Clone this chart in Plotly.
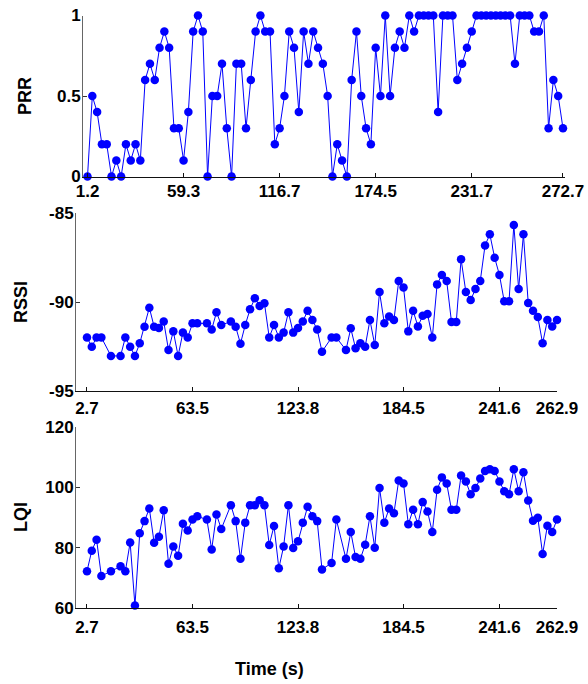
import plotly.graph_objects as go

# ---------------- data ----------------
prr = [0, 0.5, 0.4, 0.2, 0.2, 0, 0.1, 0, 0.2, 0.1,
       0.2, 0.1, 0.6, 0.7, 0.6, 0.8, 0.9, 0.8, 0.3, 0.3,
       0.1, 0.4, 0.9, 1, 0.9, 0, 0.5, 0.5, 0.7, 0.3,
       0, 0.7, 0.7, 0.3, 0.6, 0.9, 1, 0.9, 0.9, 0.2,
       0.3, 0.5, 0.9, 0.8, 0.4, 0.9, 0.7, 0.9, 0.8, 0.7,
       0.5, 0, 0.2, 0.1, 0, 0.6, 0.9, 0.5, 0.3, 0.2,
       0.8, 0.5, 1, 0.5, 0.8, 0.9, 0.8, 1, 0.9, 1,
       1, 1, 1, 0.4, 1, 1, 1, 0.6, 0.7, 0.8,
       0.9, 1, 1, 1, 1, 1, 1, 1, 1, 0.7,
       1, 1, 1, 0.9, 0.9, 1, 0.3, 0.6, 0.5, 0.3]

rssi = [-91.99, -92.51, -91.99, -91.99, -93.03, -93.03, -91.99, -92.51, -93.03, -92.32,
        -91.39, -90.32, -91.39, -91.46, -91.10, -92.70, -91.65, -93.03, -91.72, -91.99,
        -91.20, -91.20, -91.20, -91.55, -90.58, -91.29, -91.10, -91.39, -92.34, -91.29,
        -90.41, -89.79, -90.22, -90.07, -91.99, -91.29, -91.99, -91.72, -90.58, -91.72,
        -91.46, -91.10, -90.49, -91.01, -91.55, -92.79, -92.00, -92.00, -92.70, -91.48,
        -92.60, -92.32, -92.51, -91.01, -92.42, -89.44, -91.20, -90.82, -91.01, -88.82,
        -89.18, -91.65, -90.49, -91.37, -90.77, -90.67, -92.00, -89.01, -88.48, -88.82,
        -91.12, -91.12, -87.60, -89.44, -89.89, -89.27, -88.82, -86.82, -86.20, -87.51,
        -88.48, -89.96, -89.96, -85.67, -89.27, -86.20, -90.06, -90.49, -90.84, -92.32,
        -91.01, -91.37, -91.01]

lqi = [72.2, 79.0, 82.6, 70.6, 72.2, 73.8, 72.2, 81.7, 60.8, 84.8,
       88.8, 93.0, 81.6, 83.6, 92.4, 74.7, 80.4, 77.3, 87.9, 85.7,
       89.3, 90.4, 89.3, 79.4, 91.0, 86.2, 94.1, 88.8, 76.3, 88.3,
       94.1, 94.1, 95.7, 94.1, 80.9, 87.2, 73.2, 80.4, 94.1, 79.9,
       82.1, 88.3, 93.6, 90.4, 88.8, 72.8, 74.9, 89.3, 76.3, 85.2,
       76.9, 76.3, 81.0, 90.4, 80.0, 99.8, 88.3, 93.0, 91.4, 102.3,
       101.3, 87.8, 92.6, 87.8, 95.1, 92.0, 85.2, 99.2, 103.3, 101.3,
       92.6, 92.6, 103.9, 101.9, 97.7, 99.8, 102.9, 105.4, 106.0, 105.4,
       101.9, 98.7, 97.7, 106.0, 98.7, 105.0, 95.6, 88.9, 89.9, 77.9,
       87.3, 85.2, 89.3]

prr_tick_labels = ["1.2", "59.3", "116.7", "174.5", "231.7", "272.7"]
link_tick_labels = ["2.7", "63.5", "123.8", "184.5", "241.6", "262.9"]

# sample slots: RSSI/LQI only exist where packets were received (PRR > 0)
slots = list(range(len(prr)))
rx_slots = [i for i, v in enumerate(prr) if v > 0]
prr_tick_pos = [0, 20, 40, 60, 80, 99]
link_tick_pos = [rx_slots[k] for k in (0, 20, 40, 60, 80, len(rx_slots) - 1)]

W, H = 588, 684
BLUE = "#0000FF"
FONT = "Liberation Sans, Arial, sans-serif"

def fx(px):
    return px / W

def fy(py):
    return 1 - py / H

fig = go.Figure()
common = dict(mode="lines+markers", line=dict(color=BLUE, width=1),
              marker=dict(color=BLUE, size=8.5), cliponaxis=False, showlegend=False)
fig.add_trace(go.Scatter(x=slots, y=prr, xaxis="x", yaxis="y", **common))
fig.add_trace(go.Scatter(x=rx_slots, y=rssi, xaxis="x2", yaxis="y2", **common))
fig.add_trace(go.Scatter(x=rx_slots, y=lqi, xaxis="x3", yaxis="y3", **common))

tickfont = dict(family=FONT, size=17, color="black", weight="bold")
xcommon = dict(showgrid=False, zeroline=False, showline=True, linecolor="#111", linewidth=1,
               ticks="inside", ticklen=4, tickcolor="#111", tickfont=tickfont,
               automargin=False, fixedrange=True)
ycommon = dict(showgrid=False, zeroline=False, showline=True, linecolor="#666", linewidth=1,
               ticks="inside", ticklen=4, tickcolor="#333", tickfont=tickfont,
               automargin=False, fixedrange=True, ticklabelstandoff=-2)

fig.update_layout(
    width=W, height=H,
    margin=dict(l=0, r=0, t=0, b=0),
    paper_bgcolor="white", plot_bgcolor="white",
    xaxis=dict(domain=[fx(83), fx(565)], range=[-0.94, 99.42], anchor="y",
               tickvals=prr_tick_pos, ticktext=prr_tick_labels,
               ticklabelstandoff=-1, **xcommon),
    yaxis=dict(domain=[fy(176.5), fy(15.5)], range=[0, 1], anchor="x",
               tickvals=[0, 0.5, 1], ticktext=["0", "0.5", "1"], **ycommon),
    xaxis2=dict(domain=[fx(76), fx(557)], range=[-1.29, 99], anchor="y2",
                tickvals=link_tick_pos, ticktext=link_tick_labels,
                ticklabelstandoff=2, **xcommon),
    yaxis2=dict(domain=[fy(391), fy(213)], range=[-95, -85], anchor="x2",
                tickvals=[-95, -90, -85], ticktext=["-95", "-90", "-85"], **ycommon),
    xaxis3=dict(domain=[fx(76), fx(557)], range=[-1.29, 99], anchor="y3",
                tickvals=link_tick_pos, ticktext=link_tick_labels,
                ticklabelstandoff=4, **xcommon),
    yaxis3=dict(domain=[fy(608), fy(427)], range=[60, 120], anchor="x3",
                tickvals=[60, 80, 100, 120], ticktext=["60", "80", "100", "120"], **ycommon),
)

titlefont = dict(family=FONT, size=18, color="black", weight="bold")
for text, x, y, ang in [("PRR", 25, 96, -90), ("RSSI", 21, 302, -90),
                        ("LQI", 21, 517, -90), ("Time (s)", 269, 669, 0)]:
    fig.add_annotation(text=text, x=fx(x), y=fy(y), xref="paper", yref="paper",
                       xanchor="center", yanchor="middle", textangle=ang,
                       showarrow=False, font=titlefont)

fig.write_html("out.html", config={"displayModeBar": False, "staticPlot": True},
               post_script="document.body.style.margin='0';document.body.style.overflow='hidden';")
